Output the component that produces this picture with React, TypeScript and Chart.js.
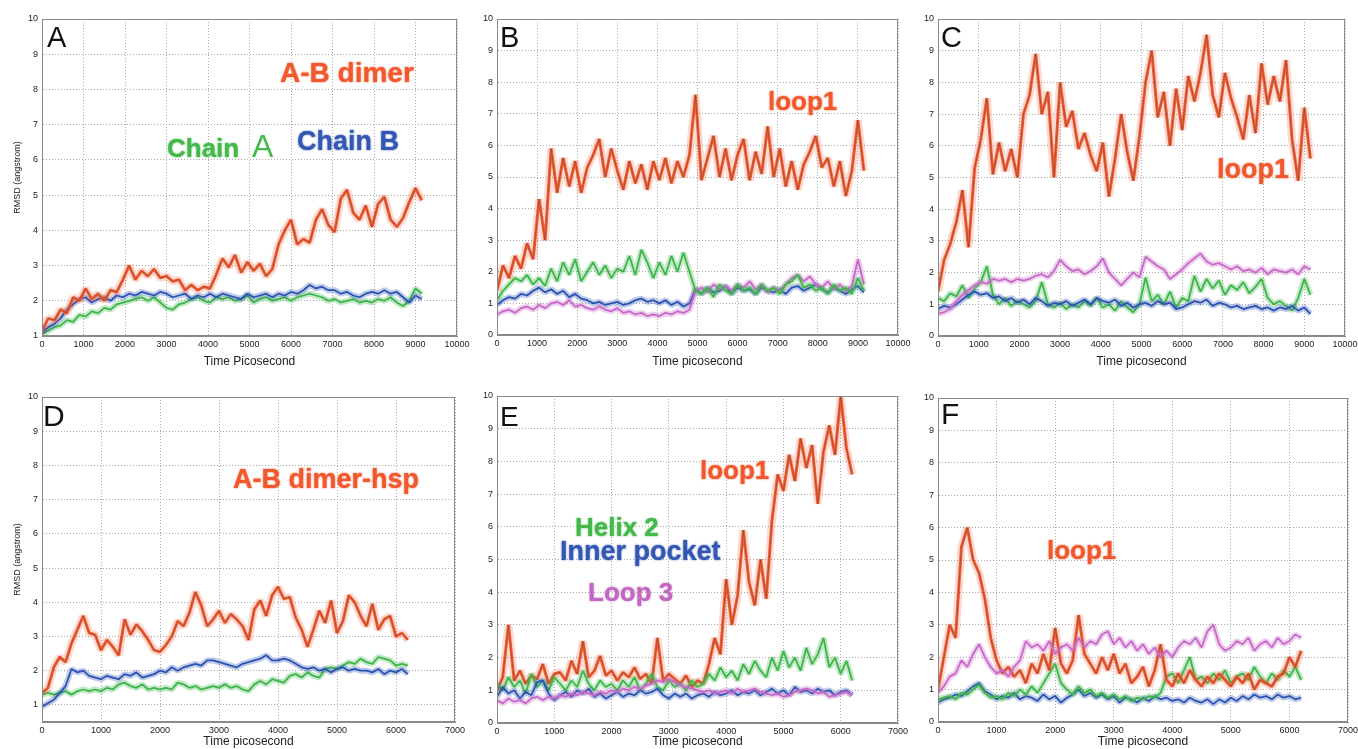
import React, { useEffect, useRef } from "react";
import { Chart, registerables } from "chart.js";

Chart.register(...registerables);

// ---------- time axes (ps) ----------
const TIME_LONG = [0,150,300,450,600,750,900,1050,1200,1350,1500,1650,1800,1950,2100,2250,2400,2550,2700,2850,3000,3150,3300,3450,3600,3750,3900,4050,4200,4350,4500,4650,4800,4950,5100,5250,5400,5550,5700,5850,6000,6150,6300,6450,6600,6750,6900,7050,7200,7350,7500,7650,7800,7950,8100,8250,8400,8550,8700,8850,9000,9150];
const TIME_SHORT = [0,100,200,300,400,500,600,700,800,900,1000,1100,1200,1300,1400,1500,1600,1700,1800,1900,2000,2100,2200,2300,2400,2500,2600,2700,2800,2900,3000,3100,3200,3300,3400,3500,3600,3700,3800,3900,4000,4100,4200,4300,4400,4500,4600,4700,4800,4900,5000,5100,5200,5300,5400,5500,5600,5700,5800,5900,6000,6100,6200];

const X_TICKS_LONG = [0,1000,2000,3000,4000,5000,6000,7000,8000,9000,10000];
const X_TICKS_SHORT = [0,1000,2000,3000,4000,5000,6000,7000];

// ---------- Panel A ----------
const A_DIMER = [1.15,1.5,1.45,1.75,1.65,2.1,2.0,2.35,2.05,2.2,2.0,2.3,2.25,2.6,3.0,2.6,2.85,2.7,2.9,2.65,2.7,2.55,2.6,2.3,2.45,2.3,2.4,2.35,2.75,3.2,2.95,3.3,2.8,3.1,2.85,3.05,2.7,2.9,3.6,4.0,4.3,3.6,3.75,3.65,4.3,4.6,4.15,3.95,4.9,5.15,4.5,4.3,4.7,4.1,4.75,4.95,4.3,4.1,4.35,4.8,5.2,4.85];
const A_CHAIN_A = [1.05,1.15,1.25,1.3,1.45,1.4,1.6,1.55,1.7,1.65,1.8,1.75,1.9,1.95,2.0,2.05,2.1,2.0,2.1,1.95,1.8,1.75,1.9,1.95,2.05,2.1,2.0,1.95,2.1,2.05,2.1,2.0,2.05,2.15,1.95,2.05,2.1,2.0,2.05,2.1,2.0,2.1,2.15,2.2,2.15,2.1,2.0,2.05,1.95,2.0,2.05,1.95,2.0,1.95,2.05,2.0,2.1,1.95,1.85,2.0,2.35,2.2];
const A_CHAIN_B = [1.1,1.25,1.35,1.5,1.75,1.9,2.05,2.1,1.95,2.05,2.1,2.0,2.15,2.1,2.2,2.15,2.25,2.2,2.15,2.25,2.2,2.1,2.15,2.2,2.05,2.15,2.1,2.2,2.1,2.2,2.15,2.1,2.05,2.2,2.1,2.15,2.2,2.1,2.2,2.15,2.25,2.2,2.3,2.45,2.35,2.4,2.3,2.3,2.2,2.25,2.15,2.1,2.2,2.25,2.2,2.3,2.2,2.25,2.1,1.95,2.15,2.05];

// ---------- Panel B ----------
const B_LOOP1 = [1.4,2.2,1.8,2.5,2.1,2.9,2.4,4.3,3.0,5.9,4.5,5.6,4.7,5.5,4.5,5.3,5.7,6.2,5.0,5.9,5.2,4.6,5.5,4.8,5.4,4.6,5.5,4.9,5.6,4.8,5.5,5.0,5.7,7.6,4.9,5.6,6.3,5.0,5.9,4.9,5.7,6.2,4.9,5.8,5.1,6.6,5.0,5.9,4.7,5.5,4.6,5.4,5.8,6.3,5.3,5.6,4.7,5.5,4.4,5.2,6.8,5.2];
const B_HELIX2 = [1.1,1.4,1.6,1.8,1.7,1.9,1.6,1.8,1.55,2.1,1.7,2.3,1.9,2.4,1.7,2.0,2.3,1.9,2.2,1.8,2.1,2.0,2.5,1.9,2.7,2.3,1.8,2.3,1.9,2.5,2.0,2.6,2.0,1.4,1.3,1.5,1.2,1.6,1.4,1.3,1.6,1.4,1.5,1.3,1.6,1.4,1.5,1.3,1.6,1.7,1.9,1.5,1.6,1.4,1.5,1.3,1.6,1.4,1.5,1.3,1.8,1.4];
const B_POCKET = [0.95,1.1,1.2,1.15,1.3,1.25,1.4,1.5,1.35,1.45,1.3,1.4,1.2,1.3,1.15,1.1,1.0,1.05,0.95,1.0,1.05,0.95,1.0,1.1,1.15,1.05,1.1,1.0,1.1,0.95,1.05,0.9,1.0,1.45,1.3,1.5,1.35,1.4,1.55,1.3,1.5,1.4,1.45,1.3,1.5,1.4,1.35,1.45,1.3,1.5,1.55,1.4,1.5,1.6,1.45,1.35,1.5,1.4,1.3,1.45,1.55,1.35];
const B_LOOP3 = [0.65,0.75,0.8,0.7,0.85,0.9,0.8,0.95,0.85,1.0,1.05,0.95,1.1,0.9,0.95,0.85,0.8,0.9,0.8,0.75,0.85,0.7,0.75,0.65,0.7,0.6,0.65,0.6,0.7,0.65,0.75,0.7,0.8,1.4,1.5,1.35,1.6,1.45,1.55,1.4,1.6,1.5,1.7,1.45,1.6,1.35,1.5,1.4,1.6,1.8,1.9,1.7,1.85,1.6,1.5,1.7,1.45,1.6,1.4,1.55,2.4,1.6];

// ---------- Panel C ----------
const C_LOOP1 = [1.4,2.4,2.9,3.6,4.6,2.8,5.3,6.2,7.5,5.1,6.1,5.2,5.9,5.0,7.0,7.6,8.9,7.0,7.7,5.0,8.0,6.6,7.1,5.9,6.4,5.7,5.2,6.1,4.4,5.6,7.0,5.8,4.9,6.3,8.0,9.0,6.9,7.7,6.0,7.8,6.5,8.2,7.4,8.3,9.5,7.6,6.9,8.3,7.5,6.9,6.2,7.6,6.4,8.6,7.3,8.2,7.4,8.7,6.2,4.9,7.2,5.6];
const C_HELIX2 = [1.2,1.1,1.35,1.25,1.6,1.2,1.5,1.7,2.2,1.3,1.0,1.2,0.95,1.1,1.0,0.9,1.1,1.7,1.0,0.9,1.05,0.85,1.0,0.9,1.1,0.95,1.2,0.9,1.0,0.8,1.1,0.9,0.75,1.0,1.85,1.1,1.3,1.0,1.4,0.9,1.2,1.1,1.9,1.4,1.8,1.5,1.75,1.3,1.6,1.45,1.7,1.35,1.55,1.8,1.2,1.0,1.1,0.95,0.8,1.2,1.8,1.3];
const C_POCKET = [0.85,0.95,0.9,1.0,1.15,1.3,1.4,1.3,1.35,1.2,1.25,1.1,1.2,1.05,1.15,1.0,1.2,1.1,0.95,1.05,1.0,1.1,0.95,1.05,1.15,1.0,1.2,1.1,1.05,1.15,0.95,1.05,0.9,1.0,1.05,0.95,1.1,1.0,1.05,0.85,0.9,1.0,1.1,1.05,1.15,0.95,1.05,1.0,0.9,0.95,0.85,0.9,0.95,0.85,0.9,0.8,0.9,0.85,0.95,0.8,0.9,0.7];
const C_LOOP3 = [0.7,0.75,0.85,1.1,1.3,1.45,1.6,1.7,1.65,1.8,1.75,1.8,1.7,1.8,1.75,1.8,1.9,1.95,1.85,2.05,2.4,2.2,2.05,2.1,1.95,2.05,2.2,2.45,2.0,1.8,1.6,1.8,2.0,1.85,2.5,2.35,2.2,2.1,1.8,1.95,2.1,2.3,2.45,2.6,2.35,2.25,2.3,2.2,2.1,2.2,2.05,2.1,2.0,2.15,1.95,2.1,2.05,2.0,2.1,1.95,2.2,2.1];

// ---------- Panel D ----------
const D_DIMER = [1.35,1.5,2.1,2.4,2.25,2.8,3.2,3.6,3.1,3.05,2.6,2.9,2.7,2.45,3.5,3.05,3.35,3.15,2.9,2.6,2.55,2.75,3.0,3.45,3.3,3.7,4.3,3.9,3.3,3.5,3.75,3.4,3.65,3.5,3.3,2.9,3.8,4.05,3.6,4.2,4.45,4.1,4.15,3.55,3.2,2.7,3.2,3.75,3.4,4.05,3.1,3.45,4.2,4.0,3.6,3.3,3.95,3.2,3.5,3.6,3.0,3.1,2.9];
const D_CHAIN_A = [1.3,1.35,1.3,1.35,1.4,1.3,1.4,1.45,1.4,1.45,1.4,1.5,1.45,1.6,1.65,1.55,1.5,1.6,1.45,1.5,1.45,1.5,1.45,1.65,1.6,1.5,1.55,1.45,1.5,1.55,1.5,1.6,1.5,1.55,1.45,1.4,1.6,1.7,1.6,1.75,1.7,1.65,1.85,1.9,1.8,1.95,1.85,1.8,2.05,2.1,2.05,2.15,2.25,2.2,2.35,2.25,2.2,2.4,2.35,2.3,2.15,2.2,2.15];
const D_CHAIN_B = [0.95,1.05,1.15,1.35,1.55,2.05,1.95,2.0,1.85,1.8,1.75,1.85,1.8,1.75,1.9,1.85,1.95,1.8,1.85,1.9,2.0,1.95,2.1,2.0,2.1,2.15,2.2,2.15,2.3,2.3,2.25,2.2,2.15,2.1,2.2,2.25,2.3,2.35,2.45,2.3,2.3,2.35,2.3,2.2,2.1,2.05,2.1,2.0,2.05,1.95,2.05,2.1,2.0,2.05,2.0,2.0,1.95,2.05,1.9,2.0,1.95,2.05,1.9];

// ---------- Panel E ----------
const E_LOOP1 = [1.0,1.4,3.0,1.3,1.6,1.2,1.45,1.35,1.8,1.2,1.5,1.55,1.3,1.9,1.5,2.5,1.4,1.6,2.05,1.45,1.6,1.3,1.55,1.4,1.7,1.35,1.5,1.2,2.6,1.3,1.5,1.35,1.2,1.45,1.1,1.3,1.2,1.8,2.6,2.1,4.4,3.0,3.9,5.9,4.3,3.6,5.0,3.8,6.2,7.6,7.1,8.2,7.4,8.7,7.8,8.5,6.7,8.3,9.1,8.2,10.0,8.4,7.6];
const E_HELIX2 = [1.2,1.0,1.4,1.1,1.3,0.9,1.5,1.1,1.3,1.0,1.4,1.2,1.0,1.3,1.1,1.6,1.2,1.0,1.3,1.1,1.2,1.0,1.3,1.1,1.4,1.0,1.2,1.5,1.1,1.0,1.3,1.1,1.2,1.0,1.3,1.1,1.2,1.5,1.3,1.7,1.4,1.6,1.3,1.8,1.5,1.9,1.6,1.4,2.0,1.6,2.2,1.7,2.0,1.6,2.3,1.8,2.1,2.6,1.7,2.0,1.5,1.9,1.3];
const E_POCKET = [0.8,1.1,0.9,1.0,0.75,0.95,0.85,1.25,1.3,0.9,0.7,0.85,0.95,0.8,1.0,0.9,1.05,0.8,0.9,0.75,0.85,0.95,0.8,0.9,0.85,1.0,0.9,0.95,1.05,0.85,0.75,0.9,0.8,0.9,0.75,0.85,0.9,0.8,0.95,0.85,0.9,1.0,0.85,0.95,0.9,1.0,0.85,0.95,1.05,0.9,1.0,0.85,1.1,0.95,1.0,0.9,1.05,0.95,1.0,0.85,0.95,1.0,0.85];
const E_LOOP3 = [0.7,0.6,0.75,0.65,0.7,0.6,0.75,0.8,0.7,0.8,0.75,0.85,0.8,0.9,0.85,0.95,0.9,0.85,0.95,0.9,1.0,0.95,1.05,1.0,1.1,1.05,1.15,1.2,1.3,1.25,1.35,1.25,1.15,1.1,1.05,1.0,0.95,1.0,0.9,0.95,1.0,0.9,1.05,0.95,1.0,1.05,0.95,0.9,0.85,0.9,0.8,0.85,0.95,1.0,1.05,1.0,0.9,0.95,0.8,0.85,0.9,0.95,0.85];

// ---------- Panel F ----------
const F_LOOP1 = [1.0,2.0,3.0,2.6,5.4,6.0,5.0,4.6,3.8,2.6,1.9,1.5,1.7,1.4,1.6,1.2,1.8,1.5,2.1,1.6,2.9,1.8,1.5,1.9,3.3,2.1,1.8,1.5,2.0,1.6,2.1,1.5,1.8,1.2,1.4,1.7,1.1,1.6,2.4,1.3,1.1,1.5,1.2,1.6,1.3,1.1,1.4,1.2,1.5,1.3,1.1,1.4,1.2,1.5,1.0,1.3,1.2,1.1,1.4,1.5,2.0,1.7,2.2];
const F_HELIX2 = [0.7,0.75,0.8,0.7,0.9,0.85,1.0,1.15,0.9,0.75,0.8,0.7,0.9,0.8,1.0,0.85,1.1,0.9,1.2,1.5,1.8,1.2,1.0,0.85,1.1,0.9,1.0,0.8,0.9,0.75,0.85,0.7,0.8,0.65,0.75,0.7,0.8,0.75,0.9,1.4,1.5,1.2,1.6,2.0,1.3,1.4,1.2,1.5,1.3,1.6,1.2,1.4,1.5,1.3,1.7,1.4,1.2,1.5,1.3,1.6,1.4,1.7,1.3];
const F_POCKET = [0.6,0.7,0.75,0.85,0.8,0.95,1.1,1.2,0.95,0.85,0.7,0.8,0.75,0.9,0.7,0.8,0.75,0.65,0.85,0.7,0.8,0.6,0.75,0.85,1.0,0.8,0.9,0.75,0.85,0.7,0.8,0.6,0.75,0.7,0.6,0.75,0.65,0.8,0.7,0.75,0.65,0.7,0.6,0.75,0.65,0.6,0.7,0.55,0.7,0.6,0.75,0.65,0.8,0.7,0.85,0.75,0.8,0.7,0.85,0.75,0.8,0.7,0.75];
const F_LOOP3 = [0.9,1.1,1.4,1.5,1.9,1.7,2.1,2.4,2.0,1.7,1.5,1.6,1.4,1.7,1.9,2.5,2.3,2.4,2.2,2.5,2.1,2.3,2.4,2.2,2.6,2.3,2.5,2.4,2.7,2.8,2.4,2.6,2.3,2.5,2.2,2.4,2.1,2.3,2.0,2.2,2.0,2.3,2.5,2.4,2.6,2.3,2.8,3.0,2.4,2.2,2.3,2.5,2.4,2.6,2.2,2.4,2.5,2.3,2.6,2.4,2.5,2.7,2.6];

// ---------- styling ----------
const FONT = '"Liberation Sans", Arial, Helvetica, sans-serif';
const RED = [242, 88, 45];
const GREEN = [61, 181, 74];
const BLUE = [43, 83, 179];
const MAGENTA = [200, 104, 200];
const rgba = (c: number[], a: number) => `rgba(${c[0]},${c[1]},${c[2]},${a})`;

type Series = { values: number[]; color: number[]; red?: boolean };
type PanelCfg = {
  L: number; R: number; T: number; B: number;
  xMax: number; yMin: number; yMax: number;
  xTicks: number[]; time: number[];
  xTitle: string; yTitle?: string; xh: number;
  series: Series[]; // bottom -> top
};

const Y_AXIS_W = 42;
const PAD_T = 10;
const PAD_R = 24;

const PANELS: PanelCfg[] = [
  { L: 42, R: 457, T: 19, B: 336, xMax: 10000, yMin: 1, yMax: 10, xTicks: X_TICKS_LONG, time: TIME_LONG, xTitle: "Time Picosecond", yTitle: "RMSD (angstrom)", xh: 33,
    series: [ { values: A_CHAIN_A, color: GREEN }, { values: A_CHAIN_B, color: BLUE }, { values: A_DIMER, color: RED, red: true } ] },
  { L: 497, R: 898, T: 19, B: 335, xMax: 10000, yMin: 0, yMax: 10, xTicks: X_TICKS_LONG, time: TIME_LONG, xTitle: "Time picosecond", xh: 34,
    series: [ { values: B_POCKET, color: BLUE }, { values: B_LOOP3, color: MAGENTA }, { values: B_HELIX2, color: GREEN }, { values: B_LOOP1, color: RED, red: true } ] },
  { L: 938, R: 1345, T: 19, B: 336, xMax: 10000, yMin: 0, yMax: 10, xTicks: X_TICKS_LONG, time: TIME_LONG, xTitle: "Time picosecond", xh: 33,
    series: [ { values: C_HELIX2, color: GREEN }, { values: C_POCKET, color: BLUE }, { values: C_LOOP3, color: MAGENTA }, { values: C_LOOP1, color: RED, red: true } ] },
  { L: 42, R: 455, T: 397, B: 722, xMax: 7000, yMin: 0.5, yMax: 10, xTicks: X_TICKS_SHORT, time: TIME_SHORT, xTitle: "Time picosecond", yTitle: "RMSD (angstrom)", xh: 27,
    series: [ { values: D_CHAIN_A, color: GREEN }, { values: D_CHAIN_B, color: BLUE }, { values: D_DIMER, color: RED, red: true } ] },
  { L: 497, R: 898, T: 396, B: 723, xMax: 7000, yMin: 0, yMax: 10, xTicks: X_TICKS_SHORT, time: TIME_SHORT, xTitle: "Time picosecond", xh: 26,
    series: [ { values: E_LOOP1, color: RED, red: true }, { values: E_HELIX2, color: GREEN }, { values: E_POCKET, color: BLUE }, { values: E_LOOP3, color: MAGENTA } ] },
  { L: 938, R: 1348, T: 398, B: 722, xMax: 7000, yMin: 0, yMax: 10, xTicks: X_TICKS_SHORT, time: TIME_SHORT, xTitle: "Time picosecond", xh: 27,
    series: [ { values: F_POCKET, color: BLUE }, { values: F_HELIX2, color: GREEN }, { values: F_LOOP1, color: RED, red: true }, { values: F_LOOP3, color: MAGENTA } ] },
];

const RED_T = "#f0582d";
const GREEN_T = "#45b84a";
const BLUE_T = "#3457b4";
const MAG_T = "#c267c2";

const LABELS = [
  { text: "A", left: 47, top: 23, size: 29, weight: 400, color: "#111" },
  { text: "A-B dimer", left: 280, top: 59, size: 28, weight: 700, color: RED_T },
  { text: "Chain", left: 167, top: 135, size: 26, weight: 700, color: GREEN_T },
  { text: "A", left: 252, top: 130, size: 32, weight: 400, color: GREEN_T },
  { text: "Chain B", left: 297, top: 128, size: 27, weight: 700, color: BLUE_T },
  { text: "B", left: 500, top: 23, size: 29, weight: 400, color: "#111" },
  { text: "loop1", left: 768, top: 88, size: 26, weight: 700, color: RED_T },
  { text: "C", left: 941, top: 23, size: 29, weight: 400, color: "#111" },
  { text: "loop1", left: 1217, top: 156, size: 27, weight: 700, color: RED_T },
  { text: "D", left: 43, top: 401, size: 30, weight: 400, color: "#111" },
  { text: "A-B dimer-hsp", left: 233, top: 466, size: 27, weight: 700, color: RED_T },
  { text: "E", left: 500, top: 403, size: 28, weight: 400, color: "#111" },
  { text: "loop1", left: 700, top: 457, size: 26, weight: 700, color: RED_T },
  { text: "Helix 2", left: 575, top: 514, size: 26, weight: 700, color: GREEN_T },
  { text: "Inner pocket", left: 560, top: 538, size: 27, weight: 700, color: BLUE_T },
  { text: "Loop 3", left: 588, top: 579, size: 26, weight: 700, color: MAG_T },
  { text: "F", left: 941, top: 399, size: 30, weight: 400, color: "#111" },
  { text: "loop1", left: 1047, top: 537, size: 26, weight: 700, color: RED_T },
];

const boxPlugin = {
  id: "matlabBox",
  afterDatasetsDraw(chart: any) {
    const { ctx, chartArea } = chart;
    ctx.save();
    ctx.strokeStyle = "#8a8a8a";
    ctx.lineWidth = 1;
    ctx.strokeRect(Math.round(chartArea.left) + 0.5, Math.round(chartArea.top) + 0.5,
      Math.round(chartArea.right - chartArea.left) - 1, Math.round(chartArea.bottom - chartArea.top) - 1);
    ctx.restore();
  },
};

function buildDatasets(cfg: PanelCfg) {
  const out: any[] = [];
  cfg.series.forEach((s) => {
    const data = cfg.time.map((t, i) => ({ x: t, y: s.values[i] }));
    const base = { data, pointRadius: 0, tension: 0, fill: false, borderJoinStyle: "bevel" as const };
    if (s.red) {
      out.push({ ...base, borderColor: rgba(s.color, 0.22), borderWidth: 8 });
      out.push({ ...base, borderColor: rgba(s.color, 0.95), borderWidth: 3 });
      out.push({ ...base, borderColor: "rgba(40,40,40,0.5)", borderWidth: 0.6 });
    } else {
      out.push({ ...base, borderColor: rgba(s.color, 0.3), borderWidth: 6 });
      out.push({ ...base, borderColor: rgba(s.color, 1), borderWidth: 1.8 });
    }
  });
  const n = out.length;
  out.forEach((d, i) => (d.order = n - i));
  return out;
}

function Panel({ cfg }: { cfg: PanelCfg }) {
  const ref = useRef<HTMLCanvasElement | null>(null);
  const left = cfg.L - Y_AXIS_W;
  const top = cfg.T - PAD_T;
  const width = cfg.R - cfg.L + Y_AXIS_W + PAD_R;
  const height = cfg.B - cfg.T + PAD_T + cfg.xh;

  useEffect(() => {
    if (!ref.current) return;
    const chart = new Chart(ref.current, {
      type: "line",
      data: { datasets: buildDatasets(cfg) },
      plugins: [boxPlugin],
      options: {
        responsive: false,
        animation: false,
        events: [],
        layout: { padding: { left: 0, right: PAD_R, top: PAD_T, bottom: 0 }, autoPadding: false },
        plugins: { legend: { display: false }, tooltip: { enabled: false } },
        scales: {
          x: {
            type: "linear",
            min: 0,
            max: cfg.xMax,
            afterBuildTicks: (scale: any) => {
              scale.ticks = cfg.xTicks.map((v) => ({ value: v }));
            },
            ticks: {
              autoSkip: false,
              maxRotation: 0,
              padding: 3,
              color: "#222",
              font: { family: FONT, size: 9 },
              callback: (v: any) => String(v),
            },
            grid: { color: "#a9a9a9", drawTicks: false, lineWidth: 1 },
            border: { display: true, color: "#8a8a8a", dash: [1, 2] },
            title: { display: true, text: cfg.xTitle, color: "#222", font: { family: FONT, size: 12 }, padding: 0 },
            afterFit: (scale: any) => {
              scale.height = cfg.xh;
            },
          },
          y: {
            type: "linear",
            min: cfg.yMin,
            max: cfg.yMax,
            ticks: {
              stepSize: 1,
              padding: 4,
              color: "#222",
              font: { family: FONT, size: 9 },
              callback: (v: any) => (Number.isInteger(v) ? String(v) : ""),
            },
            grid: { color: "#a9a9a9", drawTicks: false, lineWidth: 1 },
            border: { display: true, color: "#8a8a8a", dash: [1, 2] },
            title: {
              display: !!cfg.yTitle,
              text: cfg.yTitle || "",
              color: "#222",
              font: { family: FONT, size: 9 },
              padding: { top: 12, bottom: 0 },
            },
            afterFit: (scale: any) => {
              scale.width = Y_AXIS_W;
            },
          },
        },
      } as any,
    });
    return () => chart.destroy();
  }, []);

  return (
    <canvas
      ref={ref}
      width={width}
      height={height}
      style={{ position: "absolute", left, top, width, height }}
    />
  );
}

export default function App() {
  return (
    <div
      style={{
        position: "fixed",
        left: 0,
        top: 0,
        width: 1358,
        height: 749,
        background: "#fff",
        overflow: "hidden",
        fontFamily: FONT,
      }}
    >
      {PANELS.map((p, i) => (
        <Panel key={i} cfg={p} />
      ))}
      {LABELS.map((l, i) => (
        <div
          key={"l" + i}
          style={{
            position: "absolute",
            left: l.left,
            top: l.top,
            fontSize: l.size,
            fontWeight: l.weight,
            color: l.color,
            lineHeight: 1,
            whiteSpace: "nowrap",
            fontFamily: FONT,
            textShadow: l.weight === 700 ? `0 0 2px ${l.color}` : "none",
            pointerEvents: "none",
          }}
        >
          {l.text}
        </div>
      ))}
    </div>
  );
}
